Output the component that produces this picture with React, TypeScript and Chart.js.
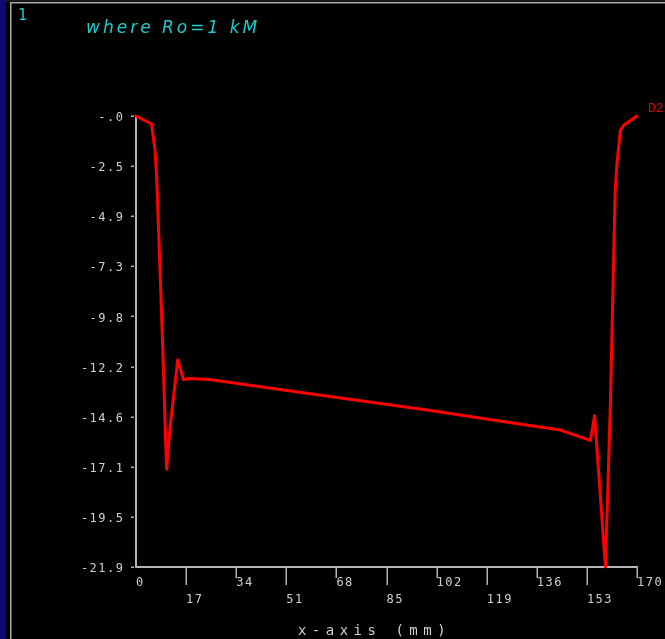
import React, { useEffect, useRef } from 'react';
import { Chart, registerables } from 'chart.js';

Chart.register(...registerables);

// D2 profile along the x-axis (mm)
const positionsMm = [
  0, 5.3, 6.45, 7.0, 7.9, 8.5, 9.3, 9.85, 10.4, 11.5,
  14.15, 16.1, 17.8, 25, 50, 75, 100, 125, 144, 154.2,
  155.6, 159.3, 161, 162.6, 163.2, 164.35, 165.5, 167.2, 170,
];
const d2Values = [
  0, -0.39, -1.65, -2.95, -6.5, -8.94, -12.2, -14.9, -17.15, -15.2,
  -11.85, -12.8, -12.75, -12.8, -13.3, -13.8, -14.3, -14.85, -15.25, -15.75,
  -14.55, -21.9, -13.8, -3.6, -2.3, -0.7, -0.45, -0.28, 0,
];
const seriesName = 'D2';

const xTickValues = [0, 17, 34, 51, 68, 85, 102, 119, 136, 153, 170];
const yTickLabels = ['-.0', '-2.5', '-4.9', '-7.3', '-9.8', '-12.2', '-14.6', '-17.1', '-19.5', '-21.9'];
const Y_MIN = -21.9;
const Y_MAX = 0;
const X_MIN = 0;
const X_MAX = 170;

const titleText = 'where Ro=1 kM';
const panelNumber = '1';
const xAxisTitle = 'x-axis (mm)';

const AXIS = '#b4b4b4';
const TXT = '#d0d0d0';
const CYAN = '#1ccccc';
const MONO = '"DejaVu Sans Mono", monospace';

const framePlugin = {
  id: 'frame',
  beforeDraw(chart: any) {
    const { ctx, width, height } = chart;
    ctx.save();
    ctx.fillStyle = '#000000';
    ctx.fillRect(0, 0, width, height);
    ctx.fillStyle = '#0a0a74';
    ctx.fillRect(0, 0, 6, height);
    ctx.fillStyle = '#181818';
    ctx.fillRect(6, 0, width - 6, 2);
    ctx.fillStyle = '#a8a8a8';
    ctx.fillRect(10, 2, 1.5, height - 2);
    ctx.fillRect(10, 2, width - 10, 1.5);
    ctx.restore();
    // spacing used by the tick labels
    ctx.letterSpacing = '1.5px';
  },
  beforeDatasetsDraw(chart: any) {
    const { ctx, chartArea } = chart;
    const xs = chart.scales.x;
    const ys = chart.scales.y;
    ctx.save();
    ctx.strokeStyle = AXIS;
    ctx.lineWidth = 1.5;
    ctx.beginPath();
    xTickValues.forEach((v, i) => {
      if (i === 0) return;
      const px = Math.round(xs.getPixelForValue(v)) + 0.25;
      ctx.moveTo(px, chartArea.bottom);
      ctx.lineTo(px, chartArea.bottom + (i % 2 ? 18 : 11));
    });
    ys.ticks.forEach((t: any) => {
      const py = Math.round(ys.getPixelForValue(t.value)) + 0.25;
      ctx.moveTo(chartArea.left - 5, py);
      ctx.lineTo(chartArea.left - 2, py);
    });
    ctx.stroke();
    ctx.restore();
  },
  afterDraw(chart: any) {
    const { ctx, chartArea } = chart;
    ctx.save();
    ctx.textAlign = 'left';
    ctx.textBaseline = 'alphabetic';

    ctx.letterSpacing = '0px';
    ctx.fillStyle = CYAN;
    ctx.font = '15px "DejaVu Sans"';
    ctx.fillText(panelNumber, 18, 20);

    ctx.letterSpacing = '3px';
    ctx.font = 'italic 17px "DejaVu Sans"';
    ctx.fillText(titleText, 86, 33);

    // series name next to the last point
    const meta = chart.getDatasetMeta(0);
    const last = meta.data[meta.data.length - 1];
    ctx.letterSpacing = '0px';
    ctx.fillStyle = '#e80000';
    ctx.font = '13px "Liberation Mono"';
    ctx.fillText(chart.data.datasets[0].label, last.x + 11, last.y - 4);

    ctx.letterSpacing = '5.5px';
    ctx.fillStyle = TXT;
    ctx.font = '14px ' + MONO;
    ctx.textAlign = 'center';
    ctx.fillText(xAxisTitle, (chartArea.left + chartArea.right) / 2 - 12, 635);
    ctx.restore();
  },
};

export default function App() {
  const ref = useRef<HTMLCanvasElement>(null);

  useEffect(() => {
    document.body.style.margin = '0';
    document.body.style.background = '#000';
    const canvas = ref.current!;
    const chart = new Chart(canvas, {
      type: 'line',
      data: {
        datasets: [
          {
            label: seriesName,
            data: positionsMm.map((x, i) => ({ x, y: d2Values[i] })),
            borderColor: '#ff0000',
            borderWidth: 3,
            pointRadius: 0,
            tension: 0,
            clip: 4,
            borderJoinStyle: 'round',
            borderCapStyle: 'round',
          },
        ],
      },
      options: {
        responsive: false,
        animation: false,
        devicePixelRatio: 1,
        layout: { padding: { left: 0, top: 116, right: 28, bottom: 0 } },
        plugins: {
          legend: { display: false },
          tooltip: { enabled: false },
          title: { display: false },
        },
        scales: {
          x: {
            type: 'linear',
            min: X_MIN,
            max: X_MAX,
            afterBuildTicks: (s: any) => {
              s.ticks = xTickValues.map((v) => ({ value: v }));
            },
            afterFit: (s: any) => {
              s.height = 72;
              s.paddingLeft = 0;
              s.paddingRight = 0;
            },
            border: { display: true, color: AXIS, width: 2 },
            grid: { drawOnChartArea: false, drawTicks: false, color: 'rgba(0,0,0,0)' },
            ticks: {
              autoSkip: false,
              maxRotation: 0,
              minRotation: 0,
              align: 'start',
              padding: 8,
              color: TXT,
              font: { family: MONO, size: 12, lineHeight: '16.5px' },
              callback: (_v: any, i: number) =>
                i % 2 ? ['', String(xTickValues[i])] : String(xTickValues[i]),
            },
          },
          y: {
            type: 'linear',
            min: Y_MIN,
            max: Y_MAX,
            afterBuildTicks: (s: any) => {
              const n = yTickLabels.length - 1;
              s.ticks = yTickLabels
                .map((_, i) => ({ value: Y_MAX + ((Y_MIN - Y_MAX) * i) / n }))
                .reverse();
            },
            afterFit: (s: any) => {
              s.width = 136;
              s.paddingTop = 0;
              s.paddingBottom = 0;
            },
            border: { display: true, color: AXIS, width: 2 },
            grid: { drawOnChartArea: false, drawTicks: false, color: 'rgba(0,0,0,0)' },
            ticks: {
              autoSkip: false,
              padding: 11.5,
              labelOffset: 2,
              color: TXT,
              font: { family: MONO, size: 12 },
              callback: (v: any) => {
                const n = yTickLabels.length - 1;
                const idx = Math.round(((Y_MAX - Number(v)) / (Y_MAX - Y_MIN)) * n);
                return yTickLabels[idx];
              },
            },
          },
        },
      },
      plugins: [framePlugin],
    } as any);
    return () => chart.destroy();
  }, []);

  return <canvas ref={ref} width={665} height={639} style={{ display: 'block' }} />;
}
